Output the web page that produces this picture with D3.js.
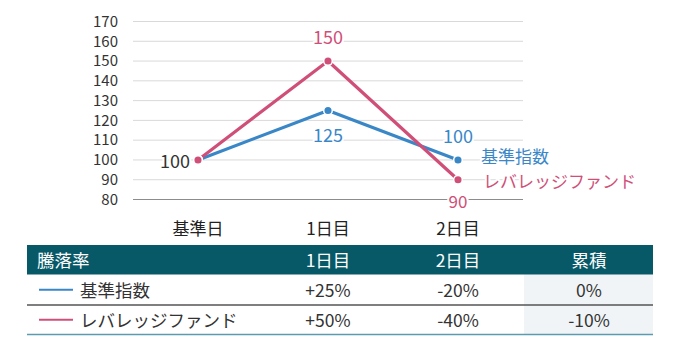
<!DOCTYPE html>
<html><head><meta charset="utf-8">
<script src="https://cdn.jsdelivr.net/npm/d3@7"></script>
<style>
html,body{margin:0;padding:0;background:#fff;}
svg{display:block;font-family:"Noto Sans CJK JP","Noto Sans",sans-serif;}
</style></head>
<body><svg id="c" width="680" height="340"></svg>
<script>
const categories = ["基準日", "1日目", "2日目"];
const seriesNames = ["基準指数", "レバレッジファンド"];
const baseValues = [100, 125, 100];
const leverageValues = [100, 150, 90];
const yTicks = [80, 90, 100, 110, 120, 130, 140, 150, 160, 170];
const tableHeader = ["騰落率", "1日目", "2日目", "累積"];
const baseRates = ["+25%", "-20%", "0%"];
const leverageRates = ["+50%", "-40%", "-10%"];

const colors = ["#3a87c8", "#d04f78"];
const svg = d3.select("#c");

const x = d3.scaleBand().domain(categories).range([133, 523]);
const y = d3.scaleLinear().domain([80, 170]).range([199.5, 21.5]);
const cx = d => x(d) + x.bandwidth() / 2;

// gridlines
svg.append("g").selectAll("line").data(yTicks.filter(t => t !== 80)).join("line")
  .attr("x1", 133).attr("x2", 523)
  .attr("y1", d => y(d)).attr("y2", d => y(d))
  .attr("stroke", "#d9d9d9").attr("stroke-width", 1);
svg.append("line").attr("x1", 133).attr("x2", 523).attr("y1", y(80)).attr("y2", y(80))
  .attr("stroke", "#8c8c8c").attr("stroke-width", 1.2);

// y ticks
const yAxis = svg.append("g").attr("transform", "translate(133,0)")
  .call(d3.axisLeft(y).tickValues(yTicks).tickSize(0).tickPadding(15));
yAxis.select(".domain").remove();
yAxis.selectAll("text").attr("font-size", 15).attr("fill", "#333")
  .attr("font-family", "'Noto Sans CJK JP',sans-serif");

// x labels
const xAxis = svg.append("g").attr("transform", `translate(0,${y(80)})`)
  .call(d3.axisBottom(x).tickSize(0).tickPadding(23));
xAxis.select(".domain").remove();
xAxis.selectAll("text").attr("font-size", 17).attr("fill", "#222")
  .attr("font-family", "'Noto Sans CJK JP',sans-serif");

const series = [baseValues, leverageValues];
const line = d3.line().x((d, i) => cx(categories[i])).y(d => y(d));
series.forEach((vals, si) => {
  svg.append("path").datum(vals).attr("d", line)
    .attr("fill", "none").attr("stroke", colors[si]).attr("stroke-width", 3.2)
    .attr("stroke-linejoin", "round");
});
series.forEach((vals, si) => {
  svg.append("g").selectAll("circle").data(vals).join("circle")
    .attr("cx", (d, i) => cx(categories[i])).attr("cy", d => y(d)).attr("r", 4.3)
    .attr("fill", colors[si]).attr("stroke", "#fff").attr("stroke-width", 1.5);
});
svg.append("circle").attr("cx", cx(categories[0])).attr("cy", y(leverageValues[0])).attr("r", 4.3)
  .attr("fill", colors[1]).attr("stroke", "#fff").attr("stroke-width", 1.5);

function label(txt, xx, yy, col, anchor, size) {
  svg.append("text").attr("x", xx).attr("y", yy).text(txt)
    .attr("fill", col).attr("font-size", size || 18).attr("text-anchor", anchor || "middle")
    .attr("dominant-baseline", "central")
    .attr("stroke", "#fff").attr("stroke-width", 4).attr("paint-order", "stroke")
    .attr("stroke-linejoin", "round");
}
label(baseValues[0], cx(categories[0]) - 8, y(baseValues[0]), "#333", "end");
label(leverageValues[1], cx(categories[1]), y(leverageValues[1]) - 25, colors[1]);
label(baseValues[1], cx(categories[1]), y(baseValues[1]) + 23, colors[0]);
label(baseValues[2], cx(categories[2]), y(baseValues[2]) - 25, colors[0]);
label(leverageValues[2], cx(categories[2]), y(leverageValues[2]) + 21, colors[1], "middle", 17);
label(seriesNames[0], cx(categories[2]) + 23, y(baseValues[2]) - 4, colors[0], "start", 17);
label(seriesNames[1], cx(categories[2]) + 25, y(leverageValues[2]) + 1, colors[1], "start", 17);

// table
const tx0 = 27, tx1 = 653;
const colCenters = [null, cx(categories[1]), cx(categories[2]), 589];
const hTop = 245, hBot = 274.5, r1Bot = 305, r2Bot = 334.5;
svg.append("rect").attr("x", 524).attr("y", hBot).attr("width", tx1 - 524).attr("height", r2Bot - hBot)
  .attr("fill", "#f0f4f7");
svg.append("rect").attr("x", tx0).attr("y", hTop).attr("width", tx1 - tx0).attr("height", hBot - hTop)
  .attr("fill", "#075967");
svg.append("line").attr("x1", tx0).attr("x2", tx1).attr("y1", r1Bot).attr("y2", r1Bot)
  .attr("stroke", "#555").attr("stroke-width", 1.3);
svg.append("line").attr("x1", tx0).attr("x2", tx1).attr("y1", r2Bot).attr("y2", r2Bot)
  .attr("stroke", "#5b9bb0").attr("stroke-width", 1.5);

svg.append("g").selectAll("text").data(tableHeader).join("text")
  .attr("x", (d, i) => i === 0 ? 37 : colCenters[i])
  .attr("y", (hTop + hBot) / 2)
  .attr("text-anchor", (d, i) => i === 0 ? "start" : "middle")
  .attr("dominant-baseline", "central")
  .attr("fill", "#fff").attr("font-size", 17.5).text(d => d);

[baseRates, leverageRates].forEach((rates, ri) => {
  const rowMid = ri === 0 ? (hBot + r1Bot) / 2 : (r1Bot + r2Bot) / 2;
  svg.append("line").attr("x1", 39).attr("x2", 73).attr("y1", rowMid).attr("y2", rowMid)
    .attr("stroke", colors[ri]).attr("stroke-width", 2);
  svg.append("text").attr("x", 80).attr("y", rowMid).attr("dominant-baseline", "central")
    .attr("fill", "#333").attr("font-size", 17.5).text(seriesNames[ri]);
  svg.append("g").selectAll("text").data(rates).join("text")
    .attr("x", (d, i) => colCenters[i + 1]).attr("y", rowMid)
    .attr("text-anchor", "middle").attr("dominant-baseline", "central")
    .attr("fill", "#333").attr("font-size", 17.5).text(d => d);
});
</script></body></html>
